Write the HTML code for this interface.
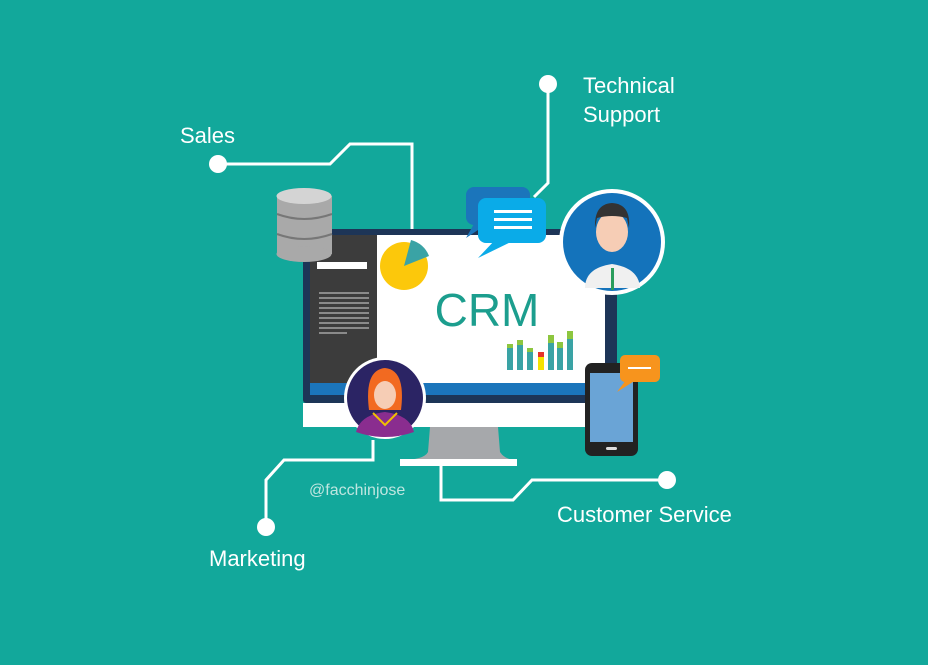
<!DOCTYPE html>
<html><head><style>body{margin:0;background:#12a89b}svg{display:block}</style></head><body>
<svg width="928" height="665" viewBox="0 0 928 665" xmlns="http://www.w3.org/2000/svg">
<rect width="928" height="665" fill="#12a89b"/>
<g stroke="#fff" stroke-width="3" fill="none">
<polyline points="218,164 330,164 350,144 412,144 412,232"/>
<polyline points="548,84 548,183 534,197"/>
<polyline points="266,527 266,480 284,460 373,460 373,440"/>
<polyline points="667,480 532,480 513,500 441,500 441,465"/>
</g>
<g fill="#fff"><circle cx="218" cy="164" r="9"/><circle cx="548" cy="84" r="9"/><circle cx="266" cy="527" r="9"/><circle cx="667" cy="480" r="9"/></g>
<g font-family="Liberation Sans, sans-serif" fill="#fff" font-size="22">
<text x="180" y="143">Sales</text>
<text x="583" y="93">Technical</text>
<text x="583" y="122">Support</text>
<text x="209" y="566">Marketing</text>
<text x="557" y="522">Customer Service</text>
<text x="309" y="495" font-size="16" fill="#bfe6e0">@facchinjose</text>
</g>
<!-- stand -->
<path d="M430,427 L498,427 L500,452 Q505,460 517,460 L400,460 Q424,460 428,452 Z" fill="#a6a8ab"/>
<rect x="400" y="459" width="117" height="7" fill="#fff"/>
<!-- monitor -->
<rect x="303" y="229" width="314" height="174" fill="#1d3557" rx="3"/>
<rect x="303" y="403" width="314" height="24" fill="#fff"/>
<rect x="310" y="235" width="67" height="148" fill="#3c3c3c"/>
<rect x="317" y="262" width="50" height="7" fill="#fff"/>
<g fill="#8a8a8a"><rect x="319" y="292" width="50" height="2"/><rect x="319" y="297" width="50" height="2"/><rect x="319" y="302" width="50" height="2"/><rect x="319" y="307" width="50" height="2"/><rect x="319" y="312" width="50" height="2"/><rect x="319" y="317" width="50" height="2"/><rect x="319" y="322" width="50" height="2"/><rect x="319" y="327" width="50" height="2"/><rect x="319" y="332" width="28" height="2"/></g>
<rect x="377" y="235" width="228" height="148" fill="#fff"/>
<rect x="310" y="383" width="295" height="12" fill="#1b75bb"/>
<circle cx="404" cy="266" r="24" fill="#fcc80b"/>
<path d="M404,266 L411,240 A26,26 0 0 1 429,256 Z" fill="#3aa3a5"/>
<text x="487" y="326" text-anchor="middle" font-family="Liberation Sans, sans-serif" font-size="46" fill="#1c9e8e">CRM</text>
<g fill="#3aa3a5"><rect x="507" y="348" width="6" height="22"/><rect x="517" y="344" width="6" height="26"/><rect x="527" y="352" width="6" height="18"/><rect x="548" y="343" width="6" height="27"/><rect x="557" y="348" width="6" height="22"/><rect x="567" y="338" width="6" height="32"/></g>
<g fill="#8dc63f"><rect x="507" y="344" width="6" height="4"/><rect x="517" y="340" width="6" height="5"/><rect x="527" y="348" width="6" height="4"/><rect x="548" y="335" width="6" height="8"/><rect x="557" y="342" width="6" height="6"/><rect x="567" y="331" width="6" height="8"/></g>
<rect x="538" y="357" width="6" height="13" fill="#f5e200"/><rect x="538" y="352" width="6" height="5" fill="#e5332a"/>
<!-- database -->
<g>
<rect x="277" y="196" width="55" height="58" fill="#a9a9a9"/>
<ellipse cx="304" cy="254" rx="27.5" ry="8" fill="#a9a9a9"/>
<ellipse cx="304" cy="196" rx="27.5" ry="8" fill="#d4d4d4"/>
<path d="M277,214 Q304,224 332,214 M277,234 Q304,244 332,234" stroke="#777" stroke-width="2" fill="none"/>
</g>
<!-- speech bubbles -->
<rect x="466" y="187" width="64" height="38" rx="8" fill="#1b75bb"/>
<path d="M475,222 L466,238 L490,222 Z" fill="#1b75bb"/>
<rect x="478" y="198" width="68" height="45" rx="8" fill="#0aabe8"/>
<path d="M495,240 L478,258 L515,240 Z" fill="#0aabe8"/>
<g fill="#fff"><rect x="494" y="210" width="38" height="3"/><rect x="494" y="218" width="38" height="3"/><rect x="494" y="226" width="38" height="3"/></g>
<!-- man avatar -->
<circle cx="612" cy="242" r="53" fill="#fff"/>
<circle cx="612" cy="242" r="49" fill="#1473bb"/>
<path d="M585,288 Q585,268 612,264 Q639,268 640,288 Z" fill="#f0f0f0"/>
<rect x="611" y="268" width="3" height="22" fill="#2a9d5c"/>
<ellipse cx="612" cy="232" rx="16" ry="20" fill="#f6cdb5"/>
<path d="M595,228 Q594,204 612,203 Q631,204 629,228 L627,218 Q612,214 597,218 Z" fill="#333"/>
<!-- woman avatar -->
<circle cx="385" cy="398" r="41" fill="#fff"/>
<circle cx="385" cy="398" r="38" fill="#2b2464"/>
<path d="M356,432 Q360,415 385,412 Q410,415 414,432 Q400,437 385,437 Q370,437 356,432 Z" fill="#8a2d8f"/>
<path d="M373,413 L385,425 L397,413" stroke="#f0c000" stroke-width="2" fill="none"/>
<path d="M369,410 Q364,370 385,368 Q406,370 401,410 Z" fill="#f26a21"/>
<ellipse cx="385" cy="395" rx="11" ry="14" fill="#f6cdb5"/>
<path d="M373,388 Q378,375 397,384 L397,380 Q385,368 373,380 Z" fill="#f26a21"/>
<!-- phone -->
<rect x="585" y="363" width="53" height="93" rx="7" fill="#222"/>
<rect x="590" y="373" width="43" height="69" fill="#6aa4d6"/>
<rect x="606" y="447" width="11" height="3" rx="1.5" fill="#ddd"/>
<rect x="620" y="355" width="40" height="27" rx="5" fill="#f7941d"/>
<path d="M626,380 L617,392 L636,380 Z" fill="#f7941d"/>
<rect x="628" y="367" width="23" height="2" fill="#fff"/>
</svg>
</body></html>
